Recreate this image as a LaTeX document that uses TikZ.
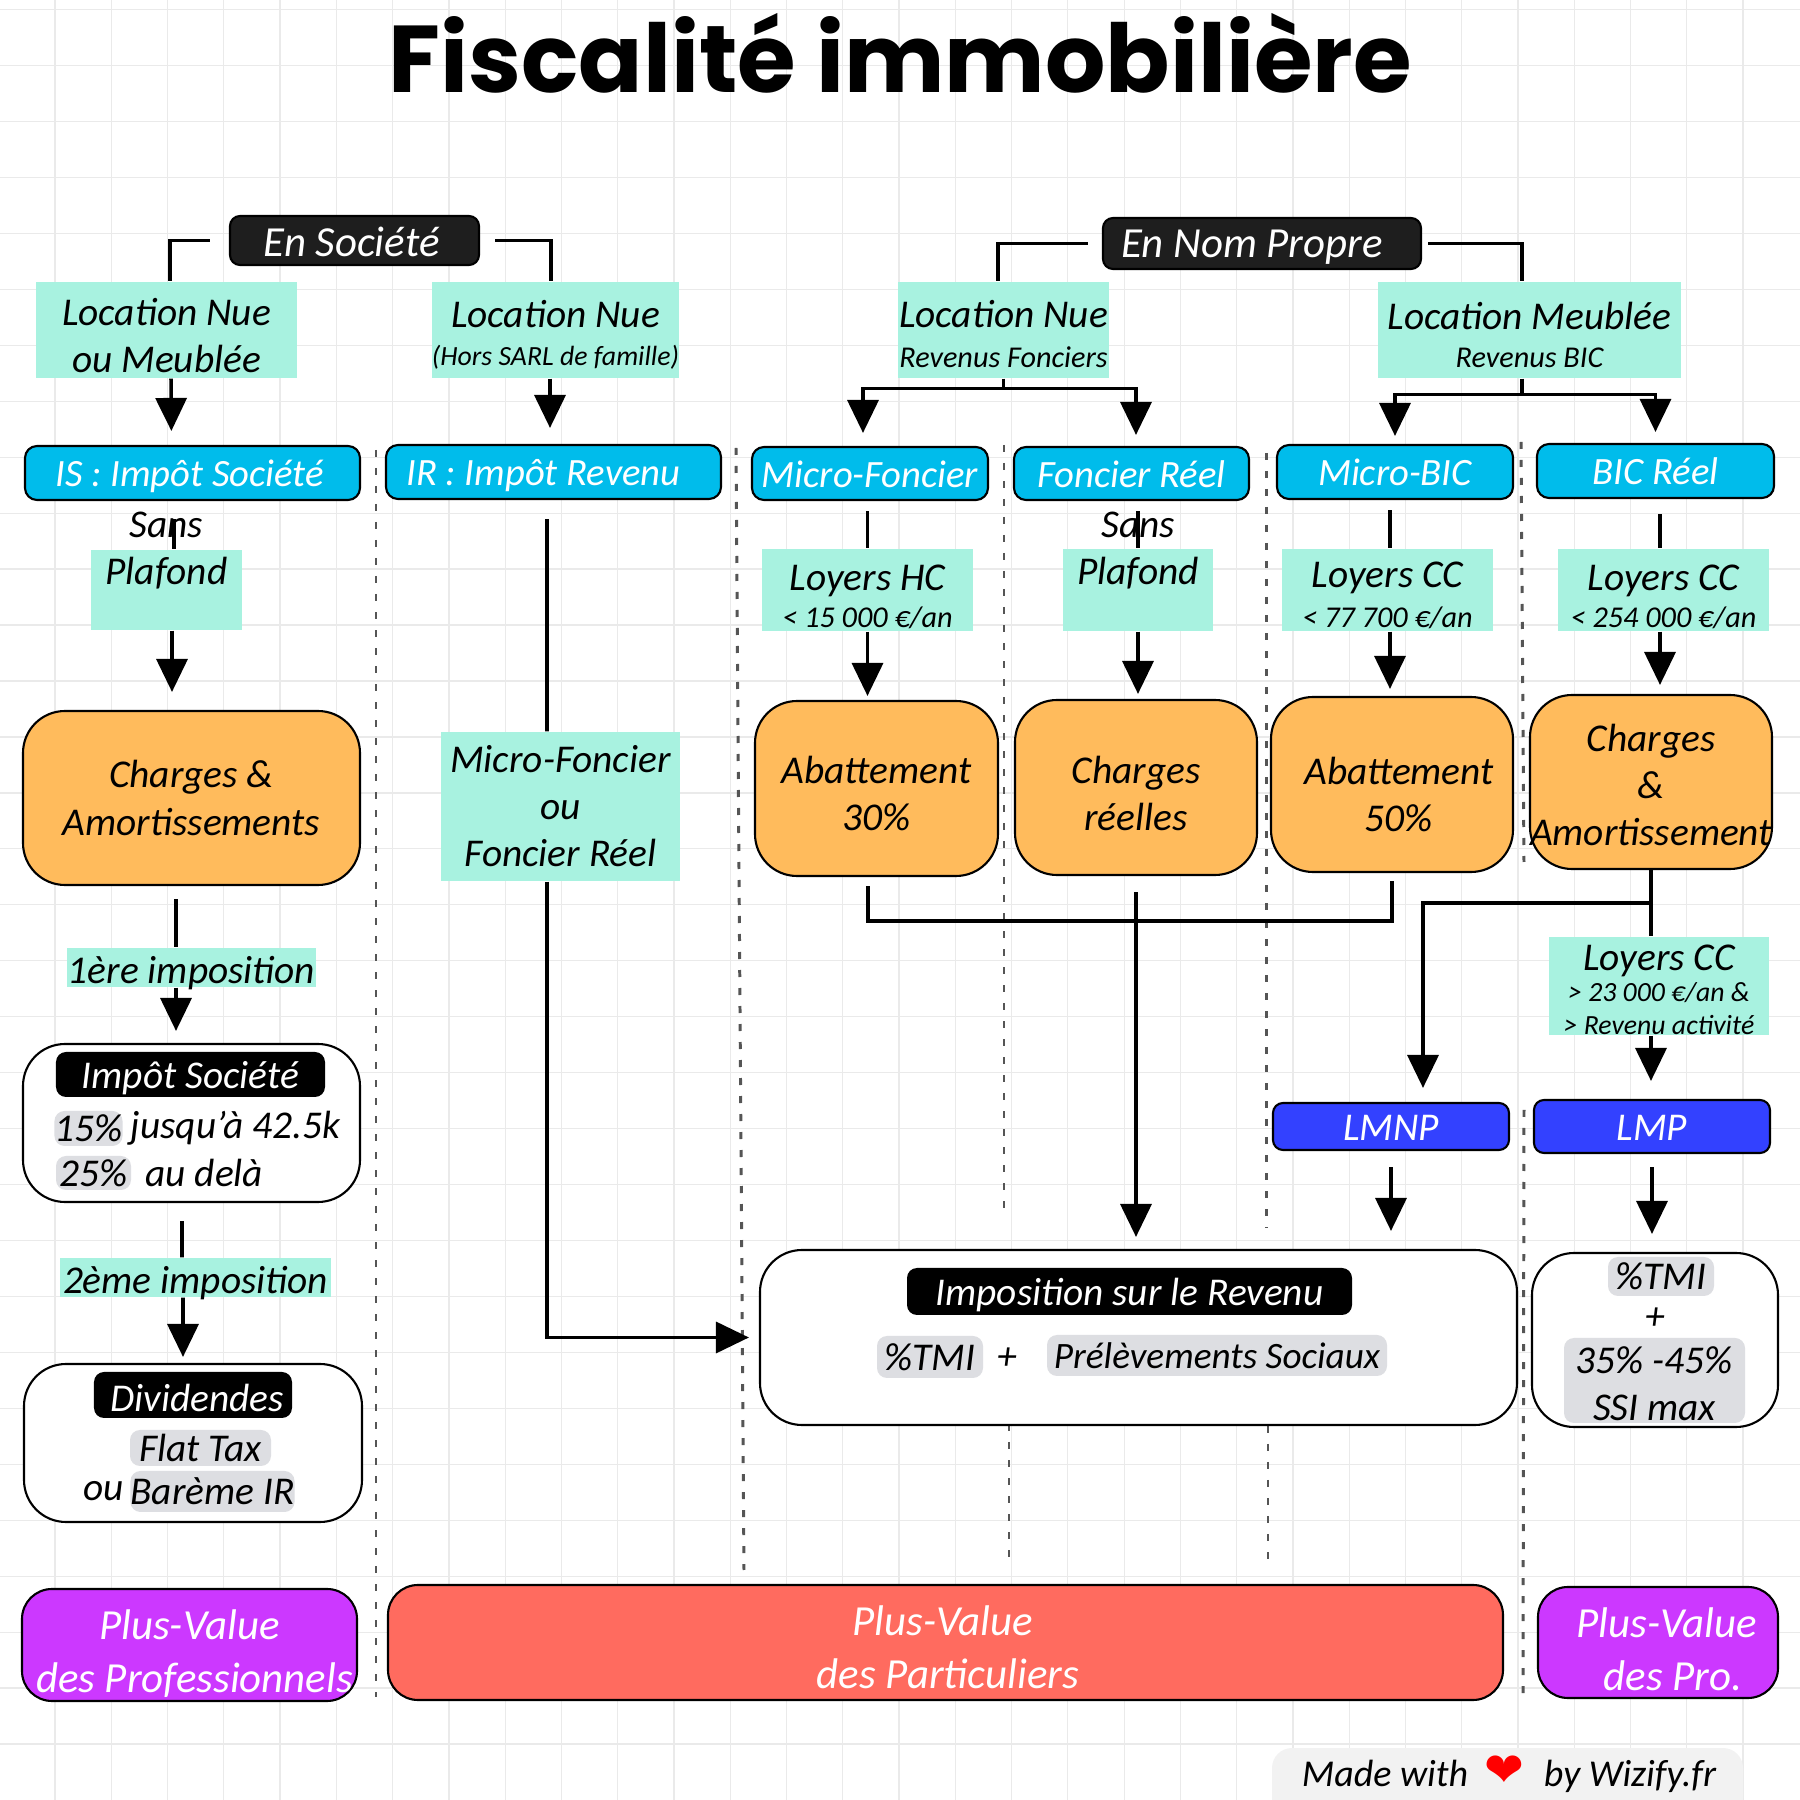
\documentclass[tikz,border=0pt]{standalone}
\usepackage{fontspec}
\setmainfont{Carlito}
\newfontfamily\titlefont{Poppins}
\newfontfamily\heartfont{DejaVu Sans}
\usepackage{xcolor}
\definecolor{fmint}{HTML}{A8F2E0}
\definecolor{fblue}{HTML}{00BCEB}
\definecolor{forange}{HTML}{FFBB5C}
\definecolor{fpurple}{HTML}{CC38FF}
\definecolor{fred}{HTML}{FF6B5F}
\definecolor{froyal}{HTML}{3341FF}
\definecolor{fgray}{HTML}{DDDEE2}
\definecolor{fink}{HTML}{1E1E1E}
\definecolor{fgrid}{HTML}{EAEAEA}
\definecolor{fsep}{HTML}{555555}
\usetikzlibrary{arrows.meta,positioning,calc}
\newcommand{\hand}{\fontsize{11.2}{13.4}\selectfont\itshape}
\newcommand{\subt}{\fontsize{8.6}{11}\selectfont}
\newcommand{\dn}[1]{\rule{0pt}{#1}}
\begin{document}
\begin{tikzpicture}[
  boxed/.style={rectangle,inner sep=0pt,align=center,font=\hand},
  oneline/.style={text height=.34cm,text depth=.06cm},
  lowline/.style={text height=.36cm,text depth=.03cm},
  mintbox/.style={boxed,fill=fmint},
  headbox/.style={boxed,oneline,rounded corners=.1cm,draw=black,line width=.6pt,text=white,fill=fink,font=\fontsize{12.2}{14}\selectfont\itshape},
  regime/.style={boxed,oneline,rounded corners=.12cm,draw=black,line width=.6pt,text=white,fill=fblue,font=\fontsize{11}{13}\selectfont\itshape},
  statut/.style={boxed,oneline,rounded corners=.1cm,draw=black,line width=.6pt,text=white,fill=froyal},
  cost/.style={boxed,rounded corners=.42cm,draw=black,line width=.6pt,fill=forange},
  whitebox/.style={boxed,rounded corners=.42cm,draw=black,line width=.6pt,fill=white},
  pvbox/.style={boxed,rounded corners=.3cm,draw=black,line width=.6pt,text=white,font=\fontsize{12.2}{15}\selectfont\itshape},
  taglabel/.style={boxed,oneline,rounded corners=.1cm,text=white,fill=black},
  hl/.style={boxed,rounded corners=.1cm,fill=fgray},
  plain/.style={boxed},
  conn/.style={line width=1pt,black},
  arr/.style={line width=1pt,black,-{Triangle[length=.33cm,width=.31cm]}},
  sep/.style={line width=.85pt,fsep,dash pattern=on .07cm off .11cm}]
\useasboundingbox (0,0) rectangle (18,18);
% grid
\foreach \i in {0,...,30}
  \draw[fgrid,line width=.35pt] ({.55+\i*.5627},0) -- ({.55+\i*.5627},18);
\foreach \j in {0,...,31}
  \draw[fgrid,line width=.35pt] (0,{17.904-\j*.5595}) -- (18,{17.904-\j*.5595});
% dotted separators
\foreach \xa/\ya/\xb/\yb in {3.76/13.5/3.76/1.03, 7.36/13.52/7.44/2.30,
    10.04/13.55/10.04/5.81, 10.09/3.76/10.09/2.33, 12.66/13.47/12.66/5.72,
    12.68/3.74/12.68/2.33, 15.21/13.58/15.24/9.38, 15.24/6.9/15.23/1.03}
  \draw[sep] (\xa,\ya) -- (\xb,\yb);
\node[font=\titlefont\bfseries\fontsize{27}{30}\selectfont] (title) at (9.0,17.47) {Fiscalité immobilière};
% heads
\node[headbox,lowline,minimum width=2.49cm,minimum height=.49cm] (enso) at (3.545,15.595) {\hspace*{-.06cm}En Société};
\node[headbox,minimum width=3.18cm,minimum height=.51cm] (enp) at (12.62,15.565) {\hspace*{-.2cm}En Nom Propre};
\node[mintbox,minimum width=2.61cm,minimum height=.96cm] (ln1) at (1.665,14.70) {\dn{.38cm}Location Nue\\ou Meublée};
\node[mintbox,minimum width=2.47cm,minimum height=.96cm] (ln2) at (5.555,14.70) {\dn{.36cm}Location Nue\\[-.09cm]{\fontsize{7.9}{10}\selectfont(Hors SARL de famille)}};
\node[mintbox,minimum width=2.11cm,minimum height=.96cm] (ln3) at (10.035,14.70) {\dn{.36cm}Location Nue\\[-.07cm]{\subt Revenus Fonciers}};
\node[mintbox,minimum width=3.03cm,minimum height=.96cm] (lm) at (15.295,14.70) {\dn{.38cm}Location Meublée\\[-.09cm]{\subt Revenus BIC}};
% regimes
\node[regime,minimum width=3.35cm,minimum height=.54cm] (is) at (1.925,13.27) {IS : Impôt Société\hspace*{.06cm}};
\node[regime,minimum width=3.35cm,minimum height=.54cm] (ir) at (5.535,13.28) {IR : Impôt Revenu\hspace*{.2cm}};
\node[regime,minimum width=2.36cm,minimum height=.53cm] (mf) at (8.70,13.265) {Micro-Foncier};
\node[regime,minimum width=2.35cm,minimum height=.53cm] (fr) at (11.315,13.265) {Foncier Réel};
\node[regime,minimum width=2.36cm,minimum height=.54cm] (mb) at (13.95,13.28) {Micro-BIC};
\node[regime,minimum width=2.37cm,minimum height=.54cm] (br) at (16.555,13.29) {BIC Réel};
% plafonds
\node[mintbox,text height=.3cm,text depth=.4cm,minimum width=1.51cm,minimum height=.80cm] (sp1) at (1.665,12.10) {Sans\\Plafond};
\node[mintbox,minimum width=2.39cm,minimum height=1.49cm] (mfor) at (5.605,9.935) {Micro-Foncier\\ou\\Foncier Réel};
\node[mintbox,minimum width=2.11cm,minimum height=.82cm] (lhc) at (8.675,12.10) {\dn{.40cm}Loyers HC\\[-.1cm]{\subt < 15 000 €/an}};
\node[mintbox,text height=.3cm,text depth=.4cm,minimum width=1.50cm,minimum height=.82cm] (sp2) at (11.38,12.10) {Sans\\Plafond};
\node[mintbox,minimum width=2.11cm,minimum height=.82cm] (lcc1) at (13.875,12.10) {\dn{.36cm}Loyers CC\\[-.07cm]{\subt < 77 700 €/an}};
\node[mintbox,minimum width=2.11cm,minimum height=.82cm] (lcc2) at (16.635,12.10) {\dn{.40cm}Loyers CC\\[-.1cm]{\subt < 254 000 €/an}};
% charges
\node[cost,minimum width=3.37cm,minimum height=1.74cm] (chg1) at (1.915,10.02) {Charges \&\\Amortissements};
\node[cost,minimum width=2.43cm,minimum height=1.75cm] (ab30) at (8.765,10.115) {\dn{.37cm}Abattement\\30\%};
\node[cost,minimum width=2.42cm,minimum height=1.75cm] (chr) at (11.36,10.125) {\dn{.40cm}Charges\\réelles};
\node[cost,minimum width=2.42cm,minimum height=1.75cm] (ab50) at (13.92,10.155) {\dn{.47cm}\hspace*{.14cm}Abattement\\\hspace*{.14cm}50\%};
\node[cost,minimum width=2.42cm,minimum height=1.74cm] (chg2) at (16.51,10.18) {\dn{.34cm}Charges\\\&\\Amortissement};
% impositions
\node[mintbox,lowline,minimum width=2.49cm,minimum height=.39cm] (imp1) at (1.915,8.325) {1ère imposition};
\node[mintbox,lowline,minimum width=2.71cm,minimum height=.39cm] (imp2) at (1.955,5.225) {2ème imposition};
\node[mintbox,minimum width=2.20cm,minimum height=.96cm] (lcc3) at (16.59,8.14) {\dn{.33cm}Loyers CC\\[-.16cm]{\fontsize{7.9}{10}\selectfont > 23 000 €/an \&}\\[-.135cm]{\fontsize{7.9}{10}\selectfont > Revenu activité}};
\node[statut,minimum width=2.36cm,minimum height=.47cm] (lmnp) at (13.91,6.735) {LMNP};
\node[statut,minimum width=2.36cm,minimum height=.53cm] (lmp) at (16.52,6.735) {LMP};
% impot societe
\node[whitebox,minimum width=3.37cm,minimum height=1.58cm] (isbox) at (1.915,6.77) {};
\node[taglabel,minimum width=2.69cm,minimum height=.45cm] (isl) at (1.905,7.255) {Impôt Société};
\node[hl,minimum width=.65cm,minimum height=.35cm] (p15) at (.885,6.715) {15\%};
\node[plain,right=.07cm of p15] (jq) {jusqu'à 42.5k};
\node[hl,minimum width=.75cm,minimum height=.34cm] (p25) at (.935,6.27) {25\%};
\node[plain,right=.13cm of p25] (ad) {au delà};
% dividendes
\node[whitebox,minimum width=3.38cm,minimum height=1.58cm] (divbox) at (1.93,3.57) {};
\node[taglabel,lowline,minimum width=1.98cm,minimum height=.46cm] (divl) at (1.93,4.05) {\hspace*{.08cm}Dividendes};
\node[hl,minimum width=1.41cm,minimum height=.36cm] (ft) at (2.005,3.52) {Flat Tax};
\node[hl,minimum width=1.55cm,minimum height=.41cm] (bar) at (2.125,3.085) {Barème IR};
\node[plain,left=.05cm of bar] (ou) {ou};
% imposition revenu
\node[whitebox,minimum width=7.57cm,minimum height=1.75cm] (irbox) at (11.385,4.625) {};
\node[taglabel,minimum width=4.45cm,minimum height=.47cm] (irl) at (11.295,5.085) {Imposition sur le Revenu};
\node[hl,minimum width=1.06cm,minimum height=.42cm] (tmi) at (9.30,4.43) {\%TMI};
\node[plain] (plus) at (10.07,4.41) {+};
\node[hl,minimum width=3.40cm,minimum height=.41cm,font=\fontsize{10.6}{13}\selectfont\itshape] (ps) at (12.17,4.445) {Prélèvements Sociaux};
% lmp
\node[whitebox,minimum width=2.46cm,minimum height=1.74cm] (lmpbox) at (16.55,4.60) {};
\node[hl,minimum width=1.06cm,minimum height=.39cm] (tmib) at (16.61,5.235) {\%TMI};
\node[plain] (plusb) at (16.55,4.81) {+};
\node[hl,minimum width=1.81cm,minimum height=.85cm] (g35) at (16.545,4.195) {\dn{.33cm}35\% -45\%\\SSI max};
% plus-values
\node[pvbox,fill=fpurple,minimum width=3.35cm,minimum height=1.12cm] (pvl) at (1.895,1.55) {\dn{.47cm}Plus-Value\\\hspace*{.1cm}des Professionnels};
\node[pvbox,fill=fred,minimum width=11.15cm,minimum height=1.15cm] (pvm) at (9.455,1.575) {\dn{.40cm}\hspace*{-.05cm}Plus-Value\\\hspace*{.05cm}des Particuliers};
\node[pvbox,fill=fpurple,minimum width=2.40cm,minimum height=1.11cm] (pvr) at (16.58,1.575) {\dn{.44cm}\hspace*{.18cm}Plus-Value\\\hspace*{.3cm}des Pro.};
\node[boxed,rounded corners=.2cm,fill=black!5,minimum width=4.71cm,minimum height=.7cm] (wiz) at (15.075,.17) {};
\node[plain,font=\fontsize{10.8}{13}\selectfont\itshape] (made) at (15.09,.26) {Made with\hspace{.16cm}{\heartfont\fontsize{13.5}{13.5}\selectfont\color{red}❤}\hspace{.2cm}by Wizify.fr};
% connectors
\draw[conn,shorten <=.19cm] (enso.west) -| ([xshift=.035cm]ln1.north);
\draw[conn,shorten <=.15cm] (enso.east) -| ([xshift=-.045cm]ln2.north);
\draw[conn,shorten <=.14cm] (enp.west) -| ([xshift=-.055cm]ln3.north);
\draw[conn,shorten <=.06cm] (enp.east) -| ([xshift=-.075cm]lm.north);
\draw[arr,shorten >=.14cm] ([xshift=.045cm]ln1.south) -- ([xshift=-.21cm]is.north);
\draw[arr,shorten >=.16cm] ([xshift=-.055cm]ln2.south) -- ([xshift=-.035cm]ir.north);
\coordinate (ln3j) at ([yshift=-.1cm]ln3.south);
\coordinate (lmj) at ([xshift=-.075cm,yshift=-.16cm]lm.south);
\draw[conn] (ln3.south) -- (ln3j);
\draw[conn] ([xshift=-.075cm]lm.south) -- (lmj);
\draw[arr,shorten >=.13cm] (ln3j) -| ([xshift=-.07cm]mf.north);
\draw[arr,shorten >=.11cm] (ln3j) -| ([xshift=.045cm]fr.north);
\draw[arr,shorten >=.08cm] (lmj) -| (mb.north);
\draw[arr,shorten >=.11cm] (lmj) -| (br.north);
\draw[conn,shorten <=.18cm] ([xshift=.075cm]sp1.north |- is.south) -- ([xshift=.075cm]sp1.north);
\draw[arr,shorten >=.18cm] ([xshift=.055cm]sp1.south) -- ([xshift=.055cm]sp1.south |- chg1.north);
\draw[conn,shorten <=.19cm] ([xshift=-.065cm]ir.south) -- ([xshift=-.135cm]mfor.north);
\draw[arr,shorten >=.1cm] ([xshift=-.135cm]mfor.south) |- (irbox.west);
\draw[conn,shorten <=.1cm] (lhc.north |- mf.south) -- (lhc.north);
\draw[arr,shorten >=.04cm] (lhc.south) -- (lhc.south |- ab30.north);
\draw[conn,shorten <=.1cm] (sp2.north |- fr.south) -- (sp2.north);
\draw[arr,shorten >=.05cm] (sp2.south) -- (sp2.south |- chr.north);
\draw[conn,shorten <=.1cm] ([xshift=.025cm]lcc1.north |- mb.south) -- ([xshift=.025cm]lcc1.north);
\draw[arr,shorten >=.07cm] ([xshift=.025cm]lcc1.south) -- ([xshift=.025cm]lcc1.south |- ab50.north);
\draw[conn,shorten <=.15cm] ([xshift=-.035cm]lcc2.north |- br.south) -- ([xshift=-.035cm]lcc2.north);
\draw[arr,shorten >=.09cm] ([xshift=-.035cm]lcc2.south) -- ([xshift=-.035cm]lcc2.south |- chg2.north);
\draw[conn,shorten <=.09cm,shorten >=.08cm] ([xshift=-.085cm]ab30.south) -- ++(0,-.44) -| (ab50.south);
\draw[arr,shorten <=.16cm,shorten >=.12cm] (chr.south) -- (chr.south |- irbox.north);
\coordinate (chgj) at ([yshift=-.33cm]chg2.south);
\draw[conn] (chg2.south) -- (chg2.south |- lcc3.north);
\draw[arr,shorten >=.14cm] (chgj) -| ([xshift=.32cm]lmnp.north);
\draw[arr,shorten >=.18cm] (chg2.south |- lcc3.south) -- (chg2.south |- lmp.north);
\draw[arr,shorten <=.16cm,shorten >=.18cm] (lmnp.south) -- (lmnp.south |- irbox.north);
\draw[arr,shorten <=.13cm,shorten >=.18cm] (lmp.south) -- (lmp.south |- lmpbox.north);
\draw[conn,shorten <=.13cm] ([xshift=-.155cm]chg1.south) -- ([xshift=-.155cm]imp1.north);
\draw[arr,shorten >=.12cm] ([xshift=-.155cm]imp1.south) -- ([xshift=-.155cm]isbox.north);
\draw[conn,shorten <=.18cm] ([xshift=-.095cm]isbox.south) -- ([xshift=-.135cm]imp2.north);
\draw[arr,shorten >=.06cm] ([xshift=-.125cm]imp2.south) -- ([xshift=-.1cm]divbox.north);
\end{tikzpicture}
\end{document}
